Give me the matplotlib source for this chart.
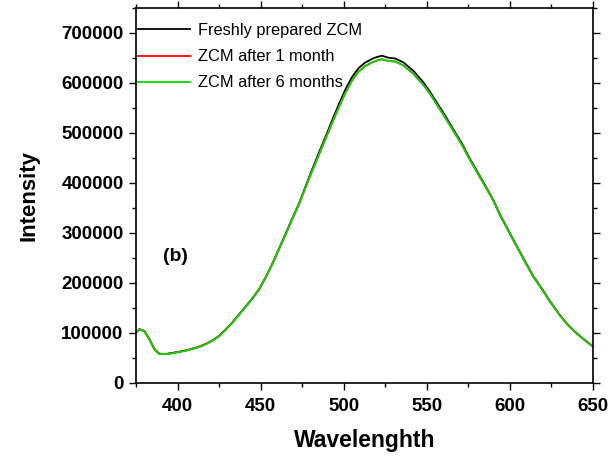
import numpy as np
import matplotlib.pyplot as plt

plt.rcParams['font.family'] = ['Liberation Sans', 'DejaVu Sans']

# wavelength (nm)
wl = [375, 377, 380, 383, 386, 389, 393, 397, 401, 405, 409, 413, 417, 421, 425,
      429, 433, 437, 441, 445, 449, 453, 457, 461, 465, 469, 473, 477, 481, 485,
      489, 493, 497, 501, 505, 509, 513, 517, 520, 523, 527, 531, 536, 542, 548,
      552, 556, 561, 566, 571, 575, 580, 585, 590, 594, 598, 602, 608, 614, 619,
      624, 630, 635, 640, 645, 650]

fresh = [101000, 107500, 104000, 88000, 68000, 58500, 58000, 60000, 62500, 65000,
         68500, 72500, 78000, 85000, 94000, 107000, 121000, 137000, 153000, 169000,
         187000, 211000, 238000, 268000, 298000, 329000, 358000, 393000, 427000, 460000,
         492000, 525000, 557000, 587000, 612000, 630000, 641000, 648000, 652000, 654500,
         650500, 649000, 641000, 624000, 601000, 582000, 561000, 535000, 507000, 480000,
         454000, 425000, 396000, 366000, 337000, 312000, 287000, 250000, 214000, 190000,
         164000, 136000, 116000, 100000, 86000, 73000]

month1 = [101000, 107500, 104000, 88000, 68000, 58500, 58000, 60000, 62500, 65000,
          68500, 72500, 78000, 85000, 94000, 107000, 121000, 137000, 153000, 169000,
          187000, 211000, 238000, 268000, 297000, 328000, 357000, 391000, 424000, 456000,
          488000, 520000, 551000, 580000, 605000, 623000, 634000, 641000, 645000, 647500,
          644000, 643000, 635000, 618000, 596000, 578000, 557000, 531000, 504000, 477000,
          452000, 423000, 394000, 365000, 336000, 311000, 286000, 249000, 213000, 189000,
          163500, 135500, 115500, 99500, 85500, 72800]

month6 = [101000, 107000, 103500, 87500, 67500, 58000, 57500, 59500, 62000, 64500,
          68000, 72000, 77500, 84500, 93500, 106500, 120500, 136500, 152500, 168500,
          186500, 210500, 237500, 267500, 297000, 328000, 357000, 391000, 424000, 456000,
          488000, 520000, 551000, 580000, 605000, 623000, 634000, 641000, 645000, 647500,
          644000, 643000, 635000, 618000, 596000, 578000, 557000, 531000, 504000, 477000,
          452000, 423000, 394000, 365000, 336000, 311000, 286000, 249000, 213000, 189000,
          163500, 135500, 115500, 99500, 85500, 72800]

labels = ['Freshly prepared ZCM', 'ZCM after 1 month', 'ZCM after 6 months']
colors = ['black', 'red', '#00dd00']

fig = plt.figure(figsize=(6.11, 4.59), dpi=100)
ax = fig.add_axes([0.2226, 0.1656, 0.9705 - 0.2226, 0.9826 - 0.1656])

for y, lab, c in zip([fresh, month1, month6], labels, colors):
    ax.plot(wl, y, color=c, lw=1.3, label=lab)

ax.set_xlim(375, 650)
ax.set_ylim(0, 750000)
ax.set_xticks(np.arange(400, 651, 50))
ax.set_xticks(np.arange(375, 651, 25), minor=True)
ax.set_yticks(np.arange(0, 700001, 100000))
ax.set_yticks(np.arange(0, 750001, 50000), minor=True)

ax.tick_params(which='both', direction='out', top=True, right=True, width=1.0)
ax.tick_params(which='major', length=5)
ax.tick_params(which='minor', length=3)
ax.tick_params(axis='x', pad=6)
ax.tick_params(axis='y', pad=4)
for lbl in ax.get_xticklabels() + ax.get_yticklabels():
    lbl.set_fontweight('bold')
    lbl.set_fontsize(13.5)
for s in ax.spines.values():
    s.set_linewidth(1.2)

ax.set_xlabel('Wavelenghth', fontsize=16.5, fontweight='bold', labelpad=10)
ax.set_ylabel('Intensity', fontsize=16, fontweight='bold', labelpad=16)

ax.text(0.059, 0.336, '(b)', transform=ax.transAxes, fontsize=14,
        fontweight='bold', va='center')

ax.legend(loc='upper left', bbox_to_anchor=(-0.01, 0.977), frameon=False,
          fontsize=11.8, handlelength=3.2, handletextpad=0.45, labelspacing=0.68,
          borderaxespad=0.0)

fig.savefig('out.png', dpi=100)
